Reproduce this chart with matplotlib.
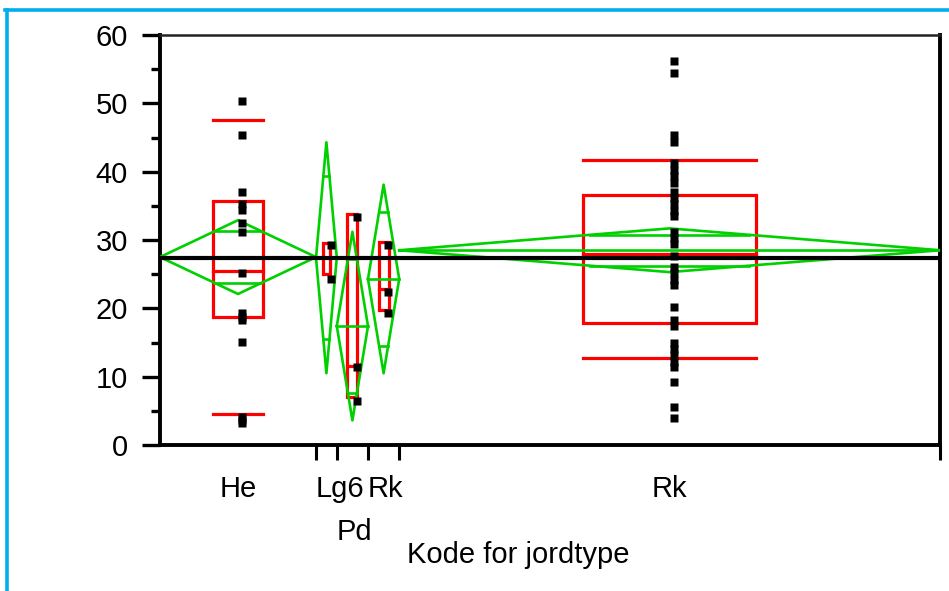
import matplotlib
matplotlib.use("Agg")
import matplotlib.pyplot as plt
import numpy as np
from matplotlib.lines import Line2D
from matplotlib.patches import Rectangle
from matplotlib.ticker import MultipleLocator

plt.rcParams['font.family'] = ['Liberation Sans', 'DejaVu Sans']

# grupper (Kode for jordtype), bredde ~ antall obs.
group_names = ["He", "Lg6", "Pd", "Rk", "Rk"]
group_n = [15, 2, 3, 3, 52]
label_row = [0, 0, 1, 0, 0]

# observasjoner
he_vals = [50.4, 45.4, 37.0, 35.2, 34.4, 32.5, 31.1, 25.2, 19.3, 18.8, 18.3,
           15.1, 4.1, 3.6, 3.2]
lg6_vals = [29.3, 24.3]
pd_vals = [33.4, 11.4, 6.4]
rk1_vals = [29.3, 22.4, 19.3]
rk2_vals = [56.2, 54.5, 45.4, 44.4, 41.3, 40.3, 39.4, 38.4, 37.0, 36.1, 35.2,
            34.3, 33.5, 31.1, 30.3, 29.4, 27.6, 26.0, 25.1, 24.1, 23.4, 20.2,
            18.3, 17.4, 15.0, 14.1, 13.1, 12.2, 11.4, 9.2, 5.5, 4.0]
values = [he_vals, lg6_vals, pd_vals, rk1_vals, rk2_vals]

# means diamonds (mean, 95% CI halvbredde)
diam_mean = [27.5, 27.4, 17.4, 24.3, 28.5]
diam_ci = [5.4, 16.9, 13.8, 13.8, 3.2]
grand_mean = 27.4

# kvantil-boksplott
q1 = [18.8, 25.0, 7.0, 19.7, 17.8]
med = [25.5, None, 11.5, 22.8, 28.0]
q3 = [35.7, 29.6, 33.8, 29.7, 36.6]
p10 = [4.6, None, None, None, 12.8]
p90 = [47.6, None, None, None, 41.7]

RED = "#ff0000"
GREEN = "#00d000"
BLUE = "#00aeef"
FS = 21

W, H = 949, 591
fig = plt.figure(figsize=(W / 100, H / 100), dpi=100)
ax = fig.add_axes([160 / W, (H - 445) / H, 780 / W, 410 / H])

edges = np.concatenate([[0], np.cumsum(group_n)])
for i in range(len(group_names)):
    L, R = edges[i], edges[i + 1]
    C = (L + R) / 2
    w = R - L

    # boks
    bw = 0.32 * w
    ax.add_patch(Rectangle((C - bw / 2, q1[i]), bw, q3[i] - q1[i], fill=False,
                           ec=RED, lw=2.3, zorder=2))
    for q in (med[i], p10[i], p90[i]):
        if q is not None:
            ax.plot([C - bw / 2, C + bw / 2], [q, q], color=RED, lw=2.3, zorder=2)

    # diamant
    m, c = diam_mean[i], diam_ci[i]
    ax.plot([L, C, R, C, L], [m, m + c, m, m - c, m], color=GREEN, lw=1.9, zorder=3)
    ax.plot([L, R], [m, m], color=GREEN, lw=1.9, zorder=3)
    h = (1 - 1 / np.sqrt(2)) * w / 2
    for s in (1, -1):
        yy = m + s * c / np.sqrt(2)
        ax.plot([C - h, C + h], [yy, yy], color=GREEN, lw=1.9, zorder=3)

    # punkter
    v = values[i]
    ax.plot(np.full(len(v), C + 0.4), v, "s", color="black", ms=5.4, mec="none", zorder=5)

    # etiketter
    tr = ax.get_xaxis_transform()
    yb = -0.1268 if label_row[i] == 0 else -0.2317
    if w >= 10:
        ax.text(C, yb, group_names[i], transform=tr, ha="center", va="baseline", fontsize=FS)
    else:
        ax.text(L, yb, group_names[i], transform=tr, ha="left", va="baseline", fontsize=FS)

ax.axhline(grand_mean, color="black", lw=3, zorder=4)

ax.set_xlim(edges[0], edges[-1])
ax.set_ylim(0, 60)
ax.yaxis.set_major_locator(MultipleLocator(10))
ax.yaxis.set_minor_locator(MultipleLocator(5))
ax.set_xticks(edges[1:])
ax.tick_params(axis="x", which="major", length=11, width=2.2, labelbottom=False)
ax.tick_params(axis="y", which="major", length=13, width=2.4, pad=10, labelsize=FS)
ax.tick_params(axis="y", which="minor", length=6.5, width=2.4)

for side in ("left", "bottom", "right"):
    ax.spines[side].set_linewidth(2.8)
ax.spines["top"].set_linewidth(1.8)
ax.spines["top"].set_color("#222222")

fig.text(407 / W, 1 - 563 / H, "Kode for jordtype", ha="left", va="baseline", fontsize=FS)

# blå ramme
fig.add_artist(Line2D([5 / W, 1], [1 - 9.7 / H] * 2, color=BLUE, lw=2.6))
fig.add_artist(Line2D([6.7 / W] * 2, [0, 1 - 9.7 / H], color=BLUE, lw=2.6))

fig.savefig("out.png", dpi=100)
